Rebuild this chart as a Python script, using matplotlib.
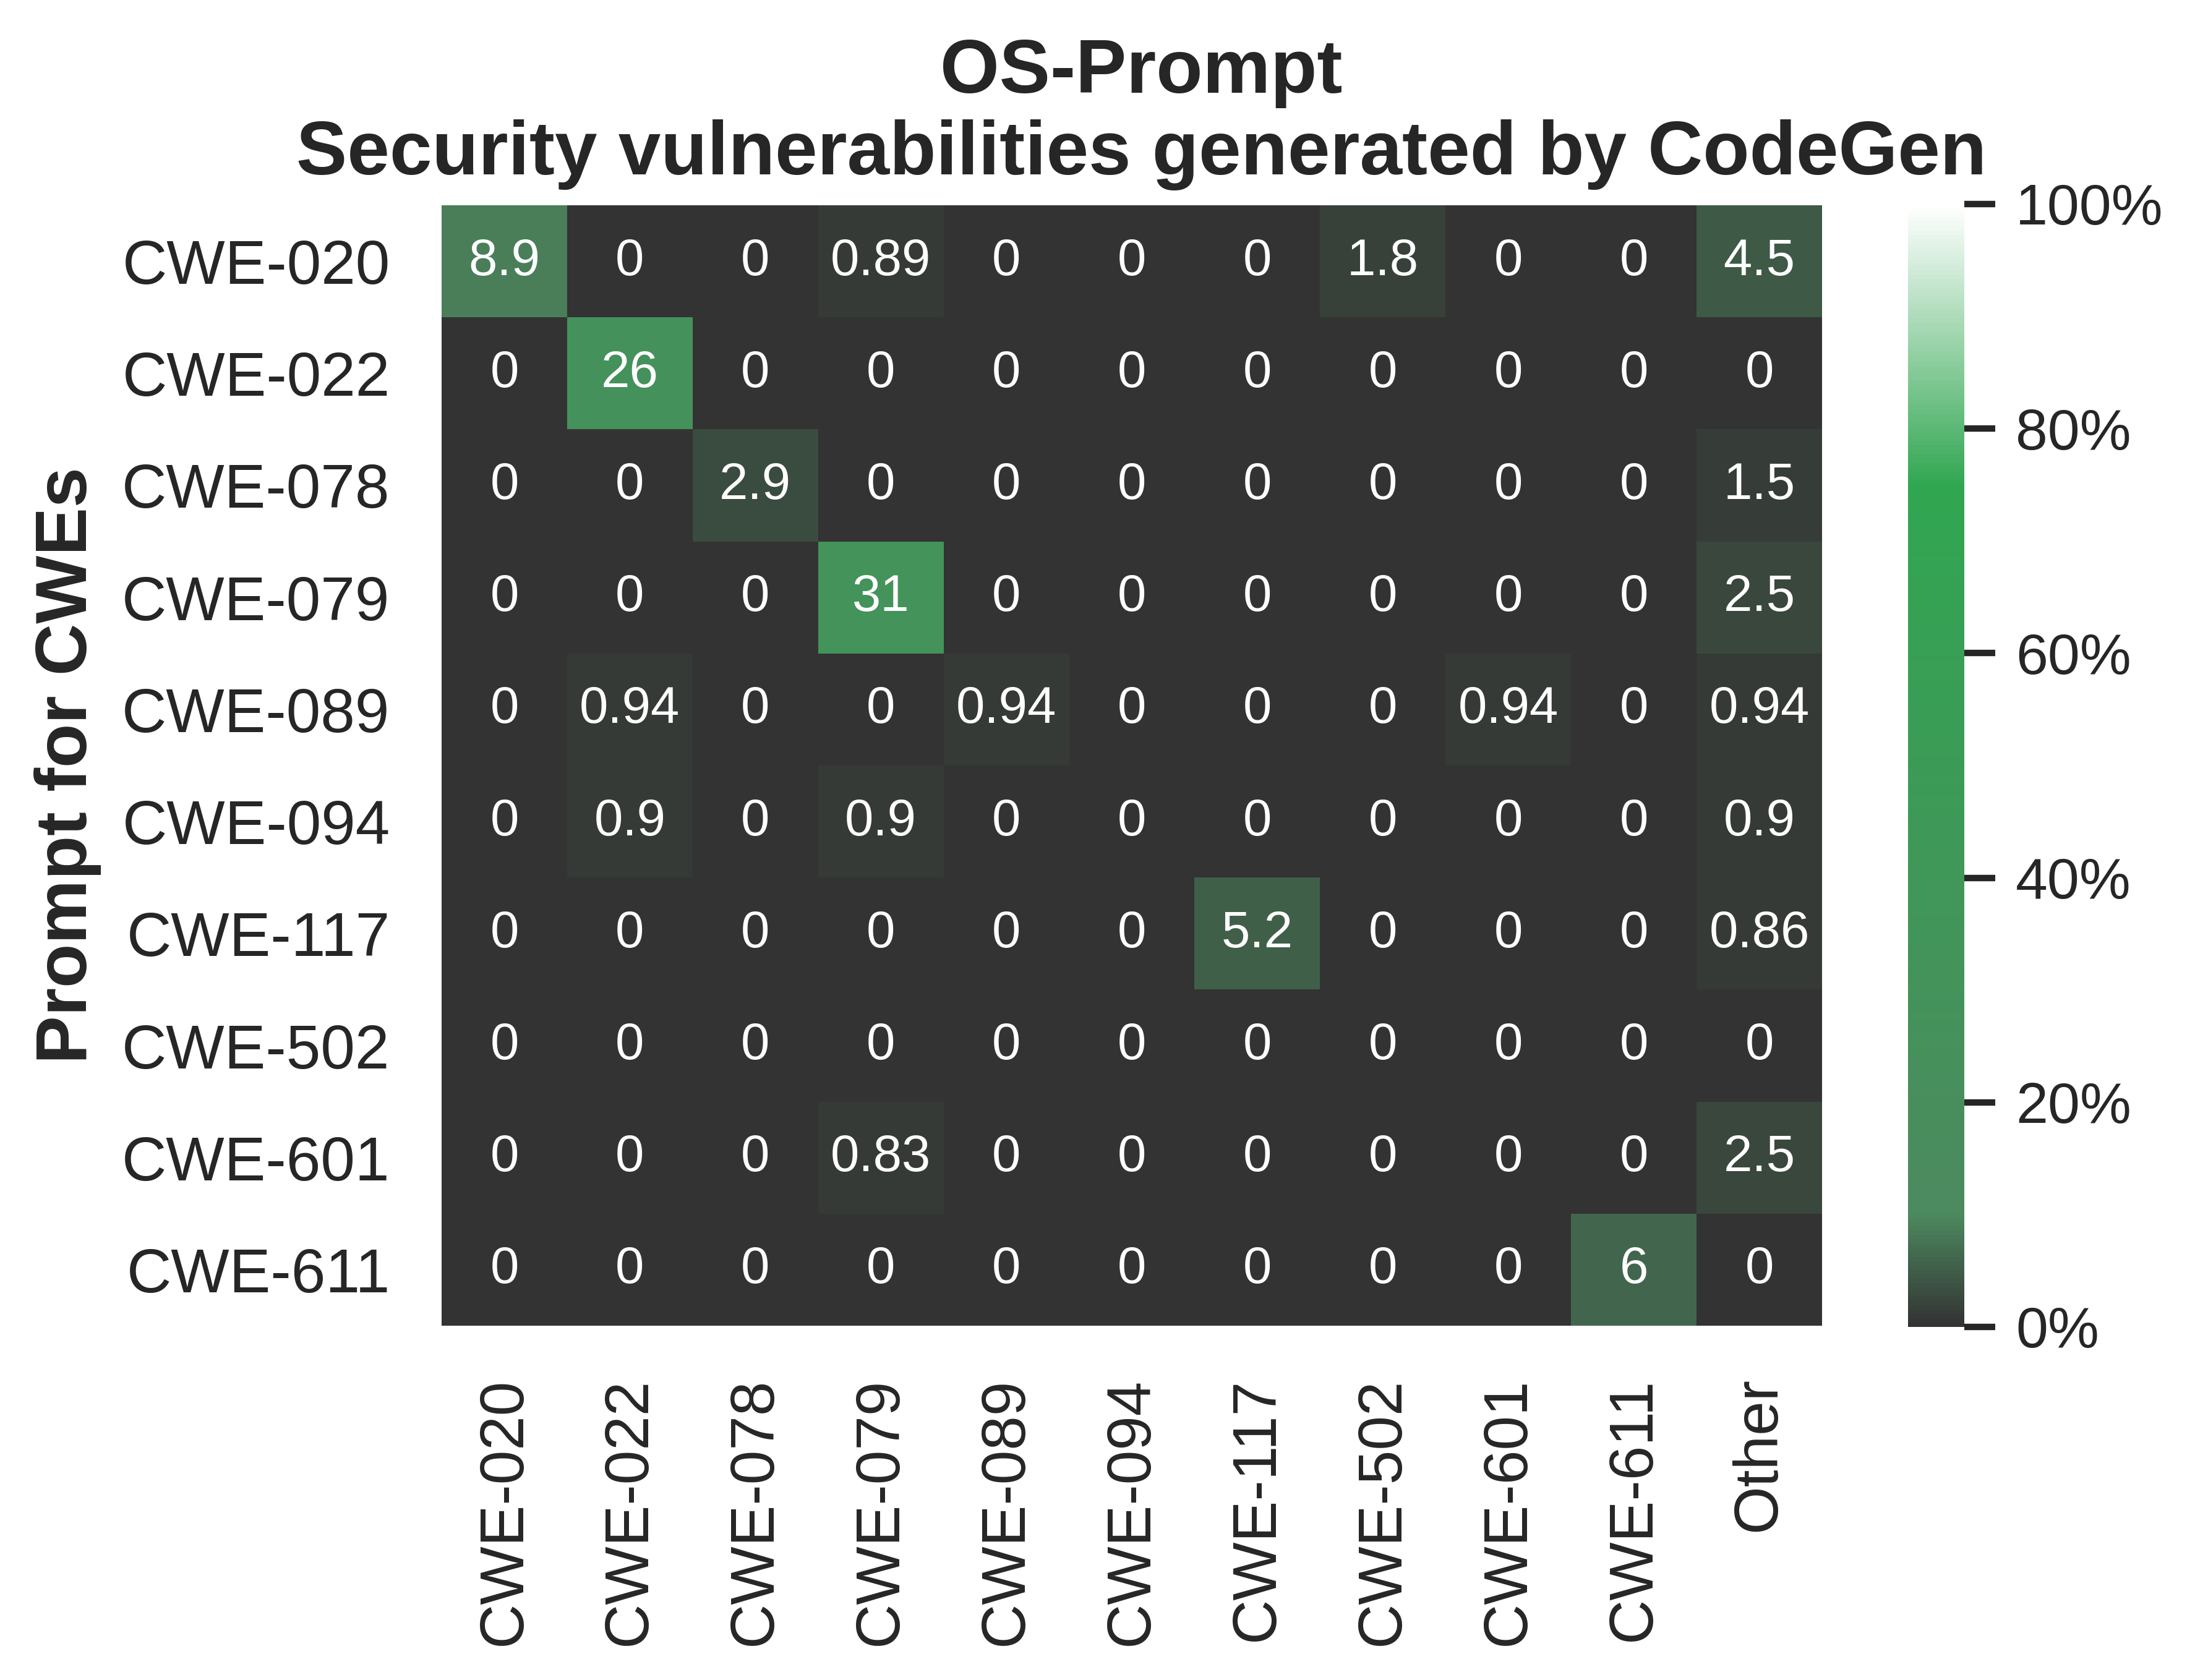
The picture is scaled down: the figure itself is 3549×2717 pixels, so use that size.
import matplotlib
matplotlib.use("Agg")
import matplotlib.pyplot as plt
import numpy as np
from matplotlib.colors import LinearSegmentedColormap

plt.rcParams['font.family'] = ['Liberation Sans', 'DejaVu Sans']

row_labels = ["CWE-020", "CWE-022", "CWE-078", "CWE-079", "CWE-089",
              "CWE-094", "CWE-117", "CWE-502", "CWE-601", "CWE-611"]
col_labels = ["CWE-020", "CWE-022", "CWE-078", "CWE-079", "CWE-089",
              "CWE-094", "CWE-117", "CWE-502", "CWE-601", "CWE-611", "Other"]

row_020 = [8.9, 0, 0, 0.89, 0, 0, 0, 1.8, 0, 0, 4.5]
row_022 = [0, 26, 0, 0, 0, 0, 0, 0, 0, 0, 0]
row_078 = [0, 0, 2.9, 0, 0, 0, 0, 0, 0, 0, 1.5]
row_079 = [0, 0, 0, 31, 0, 0, 0, 0, 0, 0, 2.5]
row_089 = [0, 0.94, 0, 0, 0.94, 0, 0, 0, 0.94, 0, 0.94]
row_094 = [0, 0.9, 0, 0.9, 0, 0, 0, 0, 0, 0, 0.9]
row_117 = [0, 0, 0, 0, 0, 0, 5.2, 0, 0, 0, 0.86]
row_502 = [0, 0, 0, 0, 0, 0, 0, 0, 0, 0, 0]
row_601 = [0, 0, 0, 0.83, 0, 0, 0, 0, 0, 0, 2.5]
row_611 = [0, 0, 0, 0, 0, 0, 0, 0, 0, 6, 0]

data = np.array([row_020, row_022, row_078, row_079, row_089,
                 row_094, row_117, row_502, row_601, row_611])

cbar_ticks = [0, 20, 40, 60, 80, 100]

cmap = LinearSegmentedColormap.from_list(
    "gg", [(0.0, "#333333"), (0.10, "#4c8a5f"), (0.75, "#31a651"), (1.0, "#ffffff")])

W, H = 3549, 2717
dpi = 600
fig = plt.figure(figsize=(W / dpi, H / dpi), dpi=dpi)
ax = fig.add_axes([714 / W, (H - 2144) / H, 2232 / W, 1812 / H])
cax = fig.add_axes([3085 / W, (H - 2146) / H, 91 / W, 1816 / H])

nr, nc = data.shape
mesh = ax.pcolormesh(np.arange(nc + 1), np.arange(nr + 1), data, cmap=cmap,
                     vmin=0, vmax=100, linewidth=0, rasterized=True)
ax.set_xlim(0, nc)
ax.set_ylim(nr, 0)

for i in range(nr):
    for j in range(nc):
        ax.text(j + 0.5, i + 0.5, "{:.2g}".format(data[i, j]), ha="center", va="center",
                color="white", fontsize=10)

for s in ax.spines.values():
    s.set_visible(False)

tc = "#262626"
ax.set_xticks(np.arange(nc) + 0.5)
ax.set_xticklabels(col_labels, rotation=90, fontsize=12, color=tc)
ax.set_yticks(np.arange(nr) + 0.5)
ax.set_yticklabels(row_labels, rotation=0, fontsize=12, color=tc)
ax.tick_params(axis="both", length=0, pad=10)
ax.set_ylabel("Prompt for CWEs", fontsize=14, fontweight="bold", color=tc, labelpad=4)
ax.set_title("OS-Prompt\nSecurity vulnerabilities generated by CodeGen",
             fontsize=14.8, fontweight="bold", color=tc, pad=6, x=0.507)

cb = fig.colorbar(mesh, cax=cax)
cb.outline.set_visible(False)
cb.set_ticks(cbar_ticks)
cb.set_ticklabels(["{}%".format(t) for t in cbar_ticks])
cax.tick_params(axis="y", length=6, width=1.25, color=tc, labelcolor=tc,
                labelsize=11.2, pad=4)

fig.savefig("out.png", dpi=dpi)
